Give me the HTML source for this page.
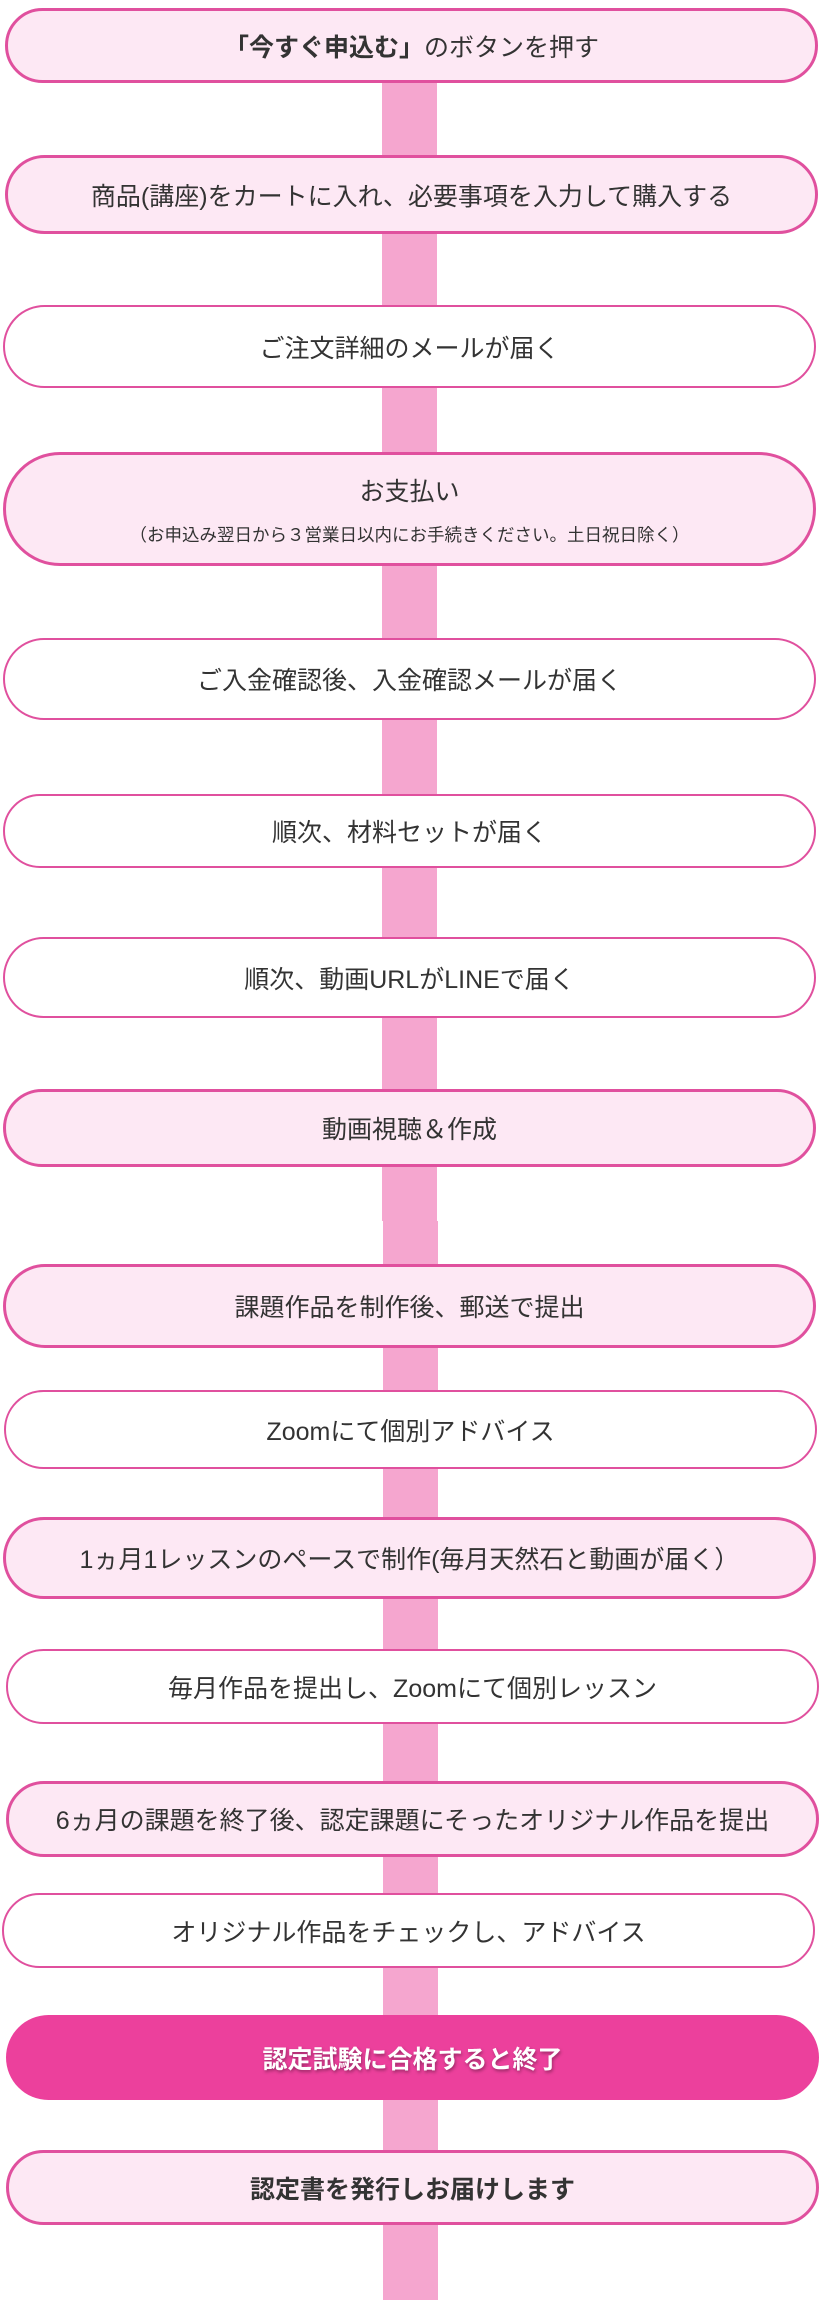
<!DOCTYPE html>
<html><head><meta charset="utf-8"><style>
body{margin:0;width:823px;height:2300px;background:#fff;position:relative;overflow:hidden;font-family:"Liberation Sans","Noto Sans CJK JP",sans-serif;color:#333}
.c{position:absolute;left:382px;width:55px;background:#f5a6cf}
.b{position:absolute;left:5px;width:813px;box-sizing:border-box;border:3px solid #e0509e;border-radius:60px;display:flex;flex-direction:column;align-items:center;justify-content:center;font-size:25px;background:#fff}
.p{background:#fde8f4}
.w{border-width:2px}
</style></head><body>
<div class="c" style="top:80px;height:1141px"></div>
<div class="c" style="left:383px;top:1221px;height:1079px"></div>

<div class="b p" style="top:8px;height:75px"><div><b>「今すぐ申込む」</b>のボタンを押す</div></div>
<div class="b p" style="top:155px;height:79px;font-size:25px">商品(講座)をカートに入れ、必要事項を入力して購入する</div>
<div class="b w" style="top:305px;height:83px;left:3px">ご注文詳細のメールが届く</div>
<div class="b p" style="top:452px;height:114px;left:3px"><div>お支払い</div><div style="font-size:17.5px;margin-top:14px">（お申込み翌日から３営業日以内にお手続きください。土日祝日除く）</div></div>
<div class="b w" style="top:638px;height:82px;left:3px">ご入金確認後、入金確認メールが届く</div>
<div class="b w" style="top:794px;height:74px;left:3px">順次、材料セットが届く</div>
<div class="b w" style="top:937px;height:81px;left:3px">順次、動画URLがLINEで届く</div>
<div class="b p" style="top:1089px;height:78px;left:3px">動画視聴＆作成</div>
<div class="b p" style="top:1264px;height:84px;left:3px">課題作品を制作後、郵送で提出</div>
<div class="b w" style="top:1390px;height:79px;left:4px">Zoomにて個別アドバイス</div>
<div class="b p" style="top:1517px;height:82px;left:3px">1ヵ月1レッスンのペースで制作(毎月天然石と動画が届く）</div>
<div class="b w" style="top:1649px;height:75px;left:6px">毎月作品を提出し、Zoomにて個別レッスン</div>
<div class="b p" style="top:1781px;height:76px;left:6px">6ヵ月の課題を終了後、認定課題にそったオリジナル作品を提出</div>
<div class="b w" style="top:1893px;height:75px;left:2px">オリジナル作品をチェックし、アドバイス</div>
<div class="b" style="top:2015px;height:85px;left:6px;border:none;background:#ec409c;color:#fff;font-weight:bold;text-shadow:1px 2px 3px rgba(0,0,0,.35)">認定試験に合格すると終了</div>
<div class="b p" style="top:2150px;height:75px;left:6px;font-weight:bold">認定書を発行しお届けします</div>
</body></html>
